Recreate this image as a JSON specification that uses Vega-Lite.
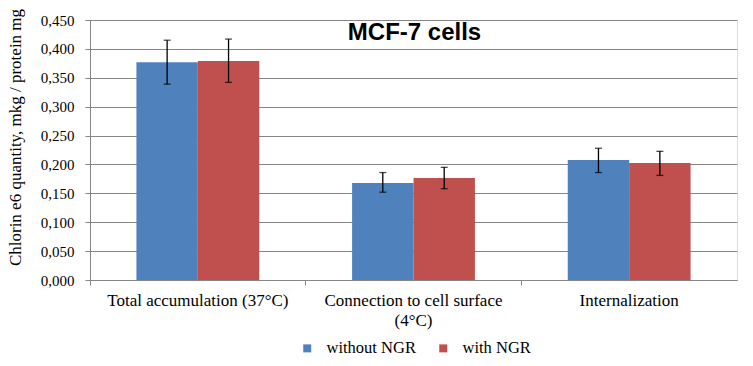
{
  "$schema": "https://vega.github.io/schema/vega-lite/v6.json",
  "width": 647,
  "height": 260,
  "autosize": {"type": "none"},
  "padding": {"left": 90, "top": 20, "right": 16, "bottom": 86},
  "background": "white",
  "config": {
    "font": "Liberation Serif",
    "axis": {"labelFont": "Liberation Serif", "titleFont": "Liberation Serif", "labelColor": "black", "titleColor": "black", "domainColor": "#868686", "tickColor": "#868686", "gridColor": "#868686"},
    "legend": {"labelFont": "Liberation Serif", "labelFontSize": 16.5, "labelColor": "black", "labelLimit": 300}
  },
  "title": {"text": "MCF-7 cells", "font": "Liberation Sans", "fontSize": 24, "fontWeight": "bold", "color": "black", "anchor": "middle", "dy": 41, "dx": 1},
  "data": {"values": [
    {"cat": "Total accumulation (37°C)", "grp": "without NGR", "v": 0.377, "lo": 0.339, "hi": 0.415},
    {"cat": "Total accumulation (37°C)", "grp": "with NGR", "v": 0.379, "lo": 0.342, "hi": 0.417},
    {"cat": "Connection to cell surface (4°C)", "grp": "without NGR", "v": 0.168, "lo": 0.152, "hi": 0.186},
    {"cat": "Connection to cell surface (4°C)", "grp": "with NGR", "v": 0.1765, "lo": 0.158, "hi": 0.195},
    {"cat": "Internalization", "grp": "without NGR", "v": 0.2077, "lo": 0.186, "hi": 0.228},
    {"cat": "Internalization", "grp": "with NGR", "v": 0.2025, "lo": 0.181, "hi": 0.2227}
  ]},
  "encoding": {
    "x": {
      "field": "cat", "type": "nominal", "sort": null,
      "scale": {"paddingInner": 0, "paddingOuter": 0},
      "axis": {
        "title": null, "labelAngle": 0, "bandPosition": 0, "tickSize": 5,
        "labelFont": "Liberation Serif", "labelFontSize": 17, "labelColor": "black",
        "labelPadding": 7, "labelLineHeight": 20, "labelBaseline": "top", "labelLimit": 300,
        "labelExpr": "datum.label == 'Connection to cell surface (4°C)' ? ['Connection to cell surface', '(4°C)'] : datum.label"
      }
    },
    "xOffset": {"field": "grp", "type": "nominal", "sort": ["without NGR", "with NGR"], "scale": {"paddingInner": 0, "paddingOuter": 0.756}}
  },
  "layer": [
    {
      "mark": {"type": "bar"},
      "encoding": {
        "y": {
          "field": "v", "type": "quantitative",
          "title": "Chlorin e6 quantity, mkg / protein mg",
          "scale": {"domain": [0, 0.45], "nice": false},
          "axis": {"values": [0, 0.05, 0.1, 0.15, 0.2, 0.25, 0.3, 0.35, 0.4, 0.45], "labelExpr": "replace(format(datum.value, '.3f'), '.', ',')",
            "labelOverlap": false, "grid": true, "gridWidth": 1, "tickSize": 5, "labelFontSize": 15, "labelPadding": 11, "labelFont": "Liberation Serif",
            "titleFont": "Liberation Serif", "titleFontSize": 17, "titleFontWeight": "normal", "titleAngle": 270, "titleAlign": "center", "titleBaseline": "bottom", "titleX": -66, "titleY": 117}
        },
        "color": {
          "field": "grp", "type": "nominal", "sort": ["without NGR", "with NGR"],
          "scale": {"domain": ["without NGR", "with NGR"], "range": ["#4F81BD", "#C0504D"]},
          "legend": {
            "title": null, "orient": "none", "direction": "horizontal", "legendX": 209, "legendY": 320,
            "symbolType": "square", "symbolSize": 64, "symbolStrokeWidth": 0,
            "labelFont": "Liberation Serif", "labelFontSize": 16.5,
            "columnPadding": 19, "labelOffset": 11
          }
        }
      }
    },
    {
      "mark": {"type": "rule", "color": "black", "strokeWidth": 1.3},
      "encoding": {
        "y": {"field": "lo", "type": "quantitative", "title": "Chlorin e6 quantity, mkg / protein mg",
          "axis": {"values": [0, 0.05, 0.1, 0.15, 0.2, 0.25, 0.3, 0.35, 0.4, 0.45], "labelExpr": "replace(format(datum.value, '.3f'), '.', ',')",
            "labelOverlap": false, "grid": true, "gridWidth": 1, "tickSize": 5, "labelFontSize": 15, "labelPadding": 11, "labelFont": "Liberation Serif",
            "titleFont": "Liberation Serif", "titleFontSize": 17, "titleFontWeight": "normal", "titleAngle": 270, "titleAlign": "center", "titleBaseline": "bottom", "titleX": -66, "titleY": 117}},
        "y2": {"field": "hi"}
      }
    },
    {
      "mark": {"type": "tick", "color": "black", "size": 7, "thickness": 1.3, "orient": "horizontal"},
      "encoding": {"y": {"field": "lo", "type": "quantitative", "title": "Chlorin e6 quantity, mkg / protein mg",
        "axis": {"values": [0, 0.05, 0.1, 0.15, 0.2, 0.25, 0.3, 0.35, 0.4, 0.45], "labelExpr": "replace(format(datum.value, '.3f'), '.', ',')",
            "labelOverlap": false, "grid": true, "gridWidth": 1, "tickSize": 5, "labelFontSize": 15, "labelPadding": 11, "labelFont": "Liberation Serif",
            "titleFont": "Liberation Serif", "titleFontSize": 17, "titleFontWeight": "normal", "titleAngle": 270, "titleAlign": "center", "titleBaseline": "bottom", "titleX": -66, "titleY": 117}}}
    },
    {
      "mark": {"type": "tick", "color": "black", "size": 7, "thickness": 1.3, "orient": "horizontal"},
      "encoding": {"y": {"field": "hi", "type": "quantitative", "title": "Chlorin e6 quantity, mkg / protein mg",
        "axis": {"values": [0, 0.05, 0.1, 0.15, 0.2, 0.25, 0.3, 0.35, 0.4, 0.45], "labelExpr": "replace(format(datum.value, '.3f'), '.', ',')",
            "labelOverlap": false, "grid": true, "gridWidth": 1, "tickSize": 5, "labelFontSize": 15, "labelPadding": 11, "labelFont": "Liberation Serif",
            "titleFont": "Liberation Serif", "titleFontSize": 17, "titleFontWeight": "normal", "titleAngle": 270, "titleAlign": "center", "titleBaseline": "bottom", "titleX": -66, "titleY": 117}}}
    }
  ]
}
